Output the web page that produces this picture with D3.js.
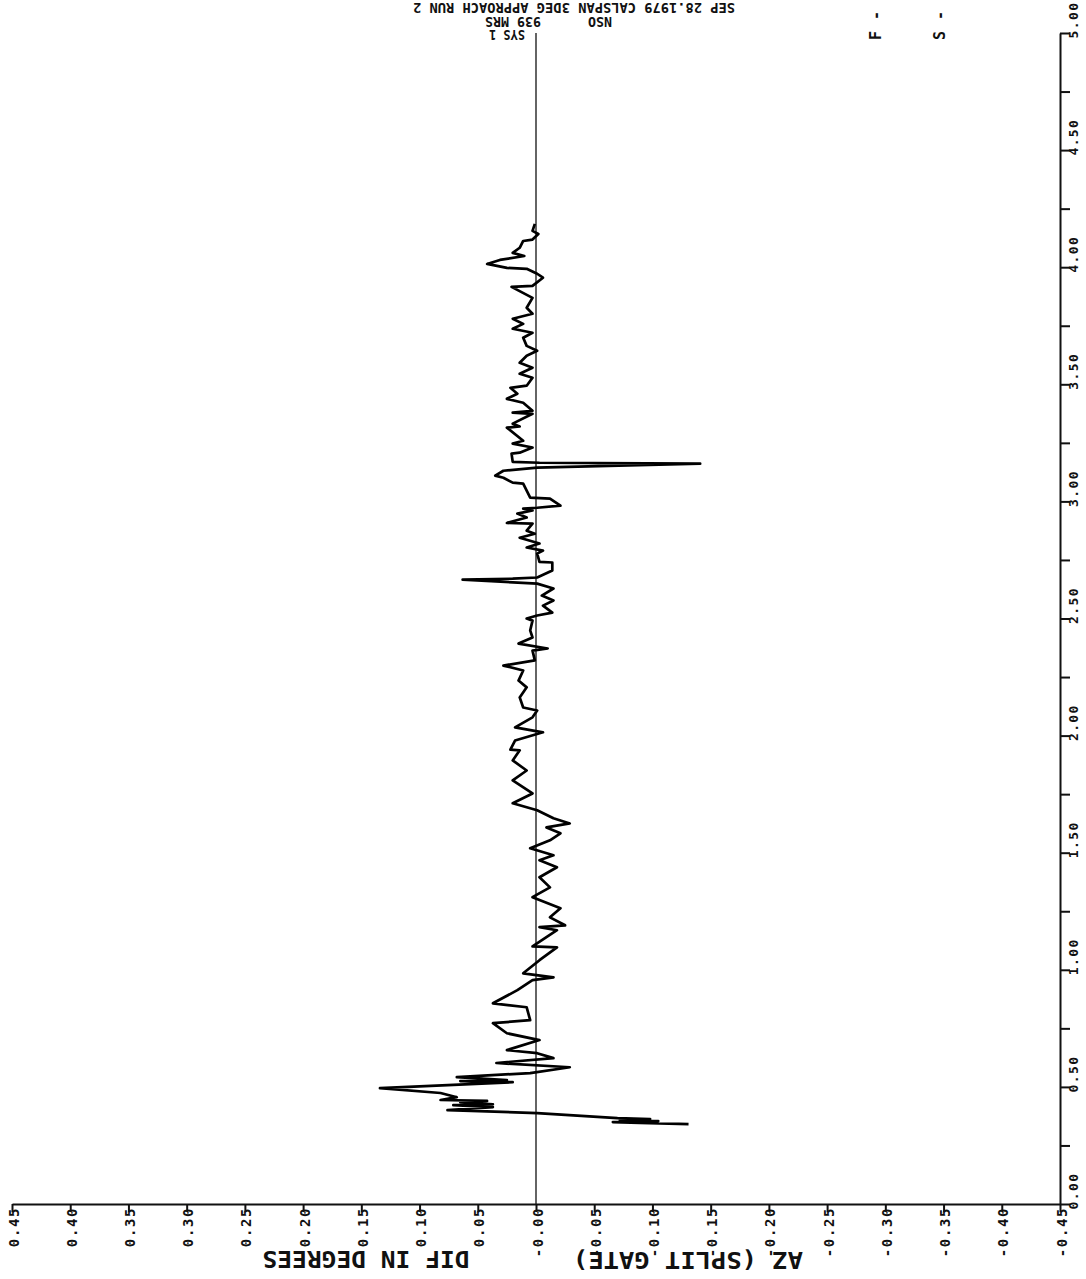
<!DOCTYPE html>
<html>
<head>
<meta charset="utf-8">
<script src="https://cdn.jsdelivr.net/npm/d3@7"></script>
<style>
  body { margin: 0; background: #fff; }
  text { font-family: "DejaVu Sans Mono", monospace; font-weight: bold; fill: #111; }
</style>
</head>
<body>
<div id="plot"></div>
<script>
const w = 1086;
const h = 1279;

// time (horizontal axis of the original plot, drawn vertically here)
const timeValues = [
  0.341, 0.346, 0.350, 0.354, 0.358, 0.363, 0.367, 0.388, 0.401, 0.414,
  0.422, 0.426, 0.435, 0.440, 0.444, 0.456, 0.474, 0.495, 0.520, 0.525,
  0.529, 0.542, 0.559, 0.584, 0.602, 0.623, 0.644, 0.657, 0.700, 0.729,
  0.772, 0.785, 0.840, 0.857, 0.913, 0.956, 0.968, 0.985, 1.041, 1.096,
  1.100, 1.169, 1.182, 1.190, 1.224, 1.263, 1.310, 1.352, 1.395, 1.438,
  1.468, 1.489, 1.519, 1.553, 1.583, 1.608, 1.625, 1.647, 1.681, 1.711,
  1.753, 1.809, 1.851, 1.894, 1.937, 1.940, 1.979, 2.014, 2.035, 2.078,
  2.107, 2.120, 2.163, 2.206, 2.235, 2.278, 2.299, 2.321, 2.363, 2.372,
  2.393, 2.419, 2.449, 2.491, 2.500, 2.513, 2.525, 2.555, 2.577, 2.598,
  2.628, 2.649, 2.666, 2.670, 2.675, 2.705, 2.739, 2.742, 2.777, 2.790,
  2.803, 2.820, 2.845, 2.862, 2.875, 2.905, 2.908, 2.931, 2.948, 2.961,
  2.969, 2.973, 2.982, 3.012, 3.016, 3.076, 3.080, 3.101, 3.110, 3.131,
  3.144, 3.161, 3.165, 3.169, 3.204, 3.208, 3.230, 3.247, 3.259, 3.315,
  3.320, 3.332, 3.374, 3.379, 3.387, 3.421, 3.438, 3.460, 3.485, 3.494,
  3.528, 3.545, 3.571, 3.592, 3.622, 3.643, 3.664, 3.699, 3.720, 3.737,
  3.758, 3.780, 3.801, 3.827, 3.869, 3.916, 3.920, 3.955, 3.972, 3.993,
  3.997, 4.014, 4.031, 4.048, 4.061, 4.083, 4.112, 4.118, 4.142, 4.155,
  4.185
];

// DIF IN DEGREES
const difValues = [
  -0.131, -0.089, -0.066, -0.105, -0.072, -0.098, -0.070, -0.001, 0.076, 0.037,
  0.071, 0.037, 0.065, 0.042, 0.082, 0.068, 0.082, 0.134, 0.020, 0.065,
  0.025, 0.068, 0.005, -0.029, 0.034, -0.015, -0.001, 0.025, -0.003, 0.025,
  0.037, 0.005, 0.008, 0.037, 0.016, 0.003, -0.015, 0.011, -0.003, -0.018,
  0.003, -0.018, -0.003, -0.025, -0.012, -0.021, 0.003, -0.012, -0.003, -0.018,
  -0.003, -0.015, 0.005, -0.012, -0.021, -0.009, -0.029, -0.015, -0.001, 0.020,
  0.003, 0.020, 0.008, 0.020, 0.014, 0.022, 0.018, -0.006, 0.018, 0.003,
  -0.001, 0.011, 0.014, 0.008, 0.015, 0.011, 0.028, 0.001, 0.003, -0.010,
  0.015, 0.003, 0.005, 0.003, 0.008, -0.001, -0.014, -0.006, -0.015, -0.005,
  -0.015, -0.001, 0.063, 0.020, -0.001, -0.014, -0.014, -0.003, -0.001, -0.006,
  0.008, -0.003, 0.014, 0.001, 0.008, 0.003, 0.025, 0.008, 0.016, 0.003,
  0.011, -0.001, -0.021, -0.012, 0.005, 0.011, 0.020, 0.028, 0.035, 0.028,
  -0.001, -0.141, -0.003, 0.020, 0.021, 0.014, 0.003, 0.020, 0.011, 0.025,
  0.014, 0.020, 0.003, 0.020, 0.003, 0.011, 0.025, 0.016, 0.022, 0.008,
  0.003, 0.014, 0.003, 0.014, 0.008, -0.001, 0.008, 0.011, 0.003, 0.020,
  0.011, 0.020, 0.003, 0.008, 0.003, 0.021, 0.003, -0.006, -0.001, 0.008,
  0.025, 0.042, 0.031, 0.010, 0.020, 0.014, 0.011, 0.003, -0.002, 0.003,
  0.001
];

const difTicks = [0.45, 0.40, 0.35, 0.30, 0.25, 0.20, 0.15, 0.10, 0.05, 0,
  -0.05, -0.10, -0.15, -0.20, -0.25, -0.30, -0.35, -0.40, -0.45];
const difTickLabels = ["0.45", "0.40", "0.35", "0.30", "0.25", "0.20", "0.15", "0.10", "0.05", "-0.00",
  "-0.05", "-0.10", "-0.15", "-0.20", "-0.25", "-0.30", "-0.35", "-0.40", "-0.45"];

const timeTicks = [0, 0.25, 0.5, 0.75, 1, 1.25, 1.5, 1.75, 2, 2.25, 2.5, 2.75,
  3, 3.25, 3.5, 3.75, 4, 4.25, 4.5, 4.75, 5];
const timeTickLabels = ["0.00", "", "0.50", "", "1.00", "", "1.50", "", "2.00", "", "2.50", "",
  "3.00", "", "3.50", "", "4.00", "", "4.50", "", "5.00"];

const titleLines = ["SEP 28.1979 CALSPAN 3DEG APPROACH   RUN 2", "939  MRS", "NSO", "SYS 1"];

const data = timeValues.map((t, i) => ({ time: t, dif: difValues[i] }));

const svg = d3.select("div#plot")
  .append("svg")
  .attr("width", w)
  .attr("height", h);

svg.append("rect").attr("width", w).attr("height", h).attr("fill", "#fff");

// the page is turned: DIF runs left->right, time runs bottom->top
const xScale = d3.scaleLinear()
  .domain([0.45, -0.45])
  .range([12, 1060]);

const yScale = d3.scaleLinear()
  .domain([0, 5])
  .range([1204, 33]);

// zero reference line
svg.append("line")
  .attr("x1", xScale(0))
  .attr("x2", xScale(0))
  .attr("y1", yScale(0))
  .attr("y2", yScale(5))
  .attr("stroke", "#111")
  .attr("stroke-width", 1.3);

const line = d3.line()
  .x(d => xScale(d.dif))
  .y(d => yScale(d.time));

svg.append("path")
  .datum(data)
  .attr("d", line)
  .attr("fill", "none")
  .attr("stroke", "#000")
  .attr("stroke-width", 2.7)
  .attr("stroke-linejoin", "round");

// DIF axis along the bottom
const xAxis = d3.axisBottom(xScale)
  .tickValues(difTicks)
  .tickSize(8)
  .tickSizeOuter(0)
  .tickFormat((d, i) => difTickLabels[i]);

const gx = svg.append("g")
  .attr("transform", `translate(0, ${yScale(0)})`)
  .call(xAxis);

gx.select(".domain").attr("stroke", "#111").attr("stroke-width", 2);
gx.selectAll(".tick line").attr("stroke", "#111").attr("stroke-width", 2);
gx.selectAll(".tick text")
  .attr("transform", "rotate(-90)")
  .attr("x", -3)
  .attr("y", 6)
  .attr("dy", 0)
  .attr("text-anchor", "end")
  .attr("font-size", 14)
  .attr("letter-spacing", 1.6)
  .attr("font-family", "DejaVu Sans Mono")
  .attr("fill", "#111");

// time axis along the right
const yAxis = d3.axisRight(yScale)
  .tickValues(timeTicks)
  .tickSize(10)
  .tickSizeOuter(0)
  .tickFormat((d, i) => timeTickLabels[i]);

const gy = svg.append("g")
  .attr("transform", `translate(${xScale(-0.45)}, 0)`)
  .call(yAxis);

gy.select(".domain").attr("stroke", "#111").attr("stroke-width", 2);
gy.selectAll(".tick line").attr("stroke", "#111").attr("stroke-width", 2);
gy.selectAll(".tick text")
  .attr("transform", "rotate(-90)")
  .attr("x", -5)
  .attr("y", 18)
  .attr("dy", 0)
  .attr("text-anchor", "start")
  .attr("font-size", 13)
  .attr("letter-spacing", 1.4)
  .attr("font-family", "DejaVu Sans Mono")
  .attr("fill", "#111");

// axis titles, upside down
function flipped(str, cx, cy, size, len) {
  svg.append("text")
    .attr("transform", `translate(${cx}, ${cy}) rotate(180)`)
    .attr("text-anchor", "middle")
    .attr("font-size", size)
    .attr("textLength", len)
    .attr("lengthAdjust", "spacingAndGlyphs")
    .text(str);
}

flipped("DIF IN DEGREES", 366, 1251, 23, 207);
flipped("AZ (SPLIT GATE)", 688, 1252, 23, 230);

flipped(titleLines[0], 574, 3, 14, 322);
flipped(titleLines[1], 513, 17, 14, 56);
flipped(titleLines[2], 600, 17, 14, 24);
flipped(titleLines[3], 507, 30, 14, 36);

// F / S markers
["F -", "S -"].forEach((s, i) => {
  svg.append("text")
    .attr("transform", `translate(${[881, 945][i]}, 40) rotate(-90)`)
    .attr("text-anchor", "start")
    .attr("font-size", 15)
    .attr("letter-spacing", 1)
    .text(s);
});
</script>
</body>
</html>
